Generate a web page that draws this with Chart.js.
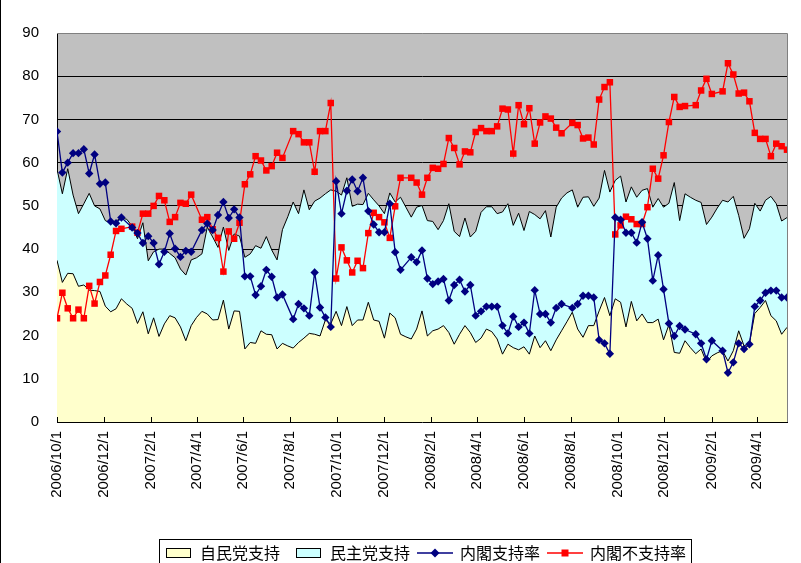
<!DOCTYPE html>
<html>
<head>
<meta charset="utf-8">
<script src="https://cdn.jsdelivr.net/npm/chart.js@4.4.0/dist/chart.umd.min.js"></script>
<style>
  html, body { margin: 0; padding: 0; background: #fff; overflow: hidden; }
  #wrap { position: relative; width: 801px; height: 563px; overflow: hidden; }
  #wrap canvas { position: absolute; left: 0; top: 0; }
</style>
</head>
<body>
<div id="wrap"><canvas id="chart" width="801" height="571"></canvas></div>
<script>
// weekly survey dates (one per week; missing cabinet polls are null)
const weeks = [
  '2006/10/1','2006/10/8','2006/10/15','2006/10/22','2006/10/29','2006/11/5','2006/11/12','2006/11/19','2006/11/26',
  '2006/12/3','2006/12/10','2006/12/17','2006/12/24','2006/12/31',
  '2007/1/7','2007/1/14','2007/1/21','2007/1/28','2007/2/4','2007/2/11','2007/2/18','2007/2/25',
  '2007/3/4','2007/3/11','2007/3/18','2007/3/25','2007/4/1','2007/4/8','2007/4/15','2007/4/22','2007/4/29',
  '2007/5/6','2007/5/13','2007/5/20','2007/5/27','2007/6/3','2007/6/10','2007/6/17','2007/6/24',
  '2007/7/1','2007/7/8','2007/7/15','2007/7/22','2007/7/29','2007/8/5','2007/8/12','2007/8/19','2007/8/26',
  '2007/9/2','2007/9/9','2007/9/16','2007/9/23','2007/9/30','2007/10/7','2007/10/14','2007/10/21','2007/10/28',
  '2007/11/4','2007/11/11','2007/11/18','2007/11/25','2007/12/2','2007/12/9','2007/12/16','2007/12/23','2007/12/30',
  '2008/1/6','2008/1/13','2008/1/20','2008/1/27','2008/2/3','2008/2/10','2008/2/17','2008/2/24',
  '2008/3/2','2008/3/9','2008/3/16','2008/3/23','2008/3/30','2008/4/6','2008/4/13','2008/4/20','2008/4/27',
  '2008/5/4','2008/5/11','2008/5/18','2008/5/25','2008/6/1','2008/6/8','2008/6/15','2008/6/22','2008/6/29',
  '2008/7/6','2008/7/13','2008/7/20','2008/7/27','2008/8/3','2008/8/10','2008/8/17','2008/8/24','2008/8/31',
  '2008/9/7','2008/9/14','2008/9/21','2008/9/28','2008/10/5','2008/10/12','2008/10/19','2008/10/26',
  '2008/11/2','2008/11/9','2008/11/16','2008/11/23','2008/11/30','2008/12/7','2008/12/14','2008/12/21','2008/12/28',
  '2009/1/4','2009/1/11','2009/1/18','2009/1/25','2009/2/1','2009/2/8','2009/2/15','2009/2/22',
  '2009/3/1','2009/3/8','2009/3/15','2009/3/22','2009/3/29','2009/4/5','2009/4/12','2009/4/19','2009/4/26',
  '2009/5/3','2009/5/10'
];

const ldpSupport = [
  37.4,32.3,34.4,34.3,31.4,31.7,30.5,30.4,30.2,26.8,25.5,26.2,28.5,27.3,
  26.3,22.8,25.5,20.4,24.1,19.8,22.7,24.6,24.1,22.0,18.8,22.3,24.2,25.6,25.0,23.6,23.7,
  28.2,21.5,25.7,25.6,16.9,18.4,18.2,21.1,20.3,20.2,16.9,18.2,17.6,17.1,18.4,19.4,20.5,
  20.3,19.9,23.6,22.7,25.6,22.3,26.7,22.3,23.6,23.6,27.7,23.6,23.3,19.4,25.2,24.1,20.3,19.7,
  19.2,21.5,25.7,19.9,21.1,21.5,22.3,20.7,18.0,20.3,22.3,20.7,18.4,19.4,21.5,20.9,19.2,
  15.7,18.0,17.2,16.7,17.4,15.7,19.9,17.2,18.8,16.5,19.0,21.1,23.2,25.4,21.5,19.6,22.3,22.3,
  25.7,28.8,24.6,28.5,27.7,22.0,27.9,23.4,25.0,23.0,23.0,23.8,19.0,22.5,16.1,15.9,18.8,
  17.2,15.8,16.9,13.8,15.3,16.0,16.5,14.1,16.5,21.1,17.6,18.2,25.1,26.5,28.1,24.6,23.4,20.3,21.9
];

const dpjSupport = [
  21.1,20.5,24.2,18.2,16.8,18.8,22.4,19.6,19.1,19.8,20.5,20.3,18.7,19.6,
  19.0,19.6,20.6,16.9,15.3,20.2,17.3,14.4,13.9,13.4,15.2,15.2,13.8,13.3,20.1,19.2,16.7,
  16.9,18.2,17.8,17.4,21.2,20.5,22.6,19.1,22.6,19.6,20.6,26.3,29.9,33.8,29.8,34.3,28.6,
  30.8,31.9,29.2,31.0,27.8,30.2,29.8,27.6,26.8,26.7,25.2,27.8,26.7,28.8,27.8,26.8,31.7,30.0,
  28.2,28.2,24.4,26.7,25.3,23.0,24.3,29.8,26.1,22.6,24.9,22.1,25.7,29.1,28.3,28.9,29.0,
  32.9,32.5,28.3,31.6,26.9,33.0,28.1,29.8,30.1,26.3,30.7,30.7,29.8,28.3,28.2,32.4,29.8,27.6,
  26.1,29.4,28.6,27.4,29.2,28.9,26.5,28.6,28.6,31.0,26.7,27.9,30.7,28.1,39.3,30.7,34.0,
  34.8,35.5,33.9,31.9,32.1,33.5,34.8,36.8,35.7,26.7,24.9,26.5,25.5,22.3,23.2,27.6,27.1,26.2,25.4
];

const cabinetSupport = [
  67.2,57.7,60.0,62.2,62.2,63.1,57.5,61.9,55.1,55.4,46.4,46.0,47.3,null,
  45.0,43.7,41.4,43.0,41.4,36.5,39.4,43.6,40.1,38.2,39.6,39.4,null,44.4,45.9,44.4,47.9,
  50.9,47.2,49.2,47.3,33.7,33.7,29.4,31.4,35.2,33.6,28.8,29.5,null,23.8,27.3,26.3,24.6,
  34.6,26.5,24.2,22.0,55.7,48.2,53.5,56.1,53.4,56.5,48.8,45.7,43.9,43.9,50.5,39.3,35.2,null,
  38.1,37.0,39.7,33.2,31.9,32.5,33.1,28.1,31.7,32.9,30.2,31.7,24.6,25.6,26.7,26.7,26.7,
  22.3,20.5,24.4,22.0,23.0,20.5,30.5,25.0,25.0,23.0,26.4,27.3,null,26.4,27.3,29.2,29.2,28.8,
  19.0,18.2,15.8,47.3,46.8,43.8,43.8,41.5,46.2,42.4,32.7,38.6,30.7,22.8,19.9,22.2,21.4,
  null,20.3,18.2,14.5,18.8,null,16.5,11.4,13.8,18.2,16.9,18.0,26.7,28.1,29.9,30.4,30.4,28.8,28.8
];

const cabinetOppose = [
  24.0,29.9,26.3,24.0,26.0,24.0,31.5,27.4,32.4,33.9,38.7,44.2,44.7,null,
  45.2,43.8,48.2,48.2,50.0,52.3,51.3,46.3,47.4,50.7,50.5,52.6,null,46.8,47.4,44.6,42.6,
  34.8,44.1,42.4,46.1,55.0,57.3,61.5,60.5,58.2,59.2,62.3,61.1,null,67.3,66.6,64.7,64.7,
  57.9,67.3,67.3,73.8,33.2,40.4,37.4,34.6,37.3,35.6,43.7,48.4,47.4,46.2,42.6,49.9,56.5,null,
  56.5,55.4,52.6,56.5,58.8,58.6,59.7,65.7,63.4,59.6,62.6,62.4,67.1,68.0,67.3,67.3,68.4,
  72.5,72.3,62.1,73.3,68.9,72.6,64.4,69.3,70.7,70.2,68.1,66.8,null,69.2,68.7,65.6,65.8,64.2,
  74.6,77.5,78.6,43.4,45.5,47.5,46.9,45.8,45.8,49.7,58.6,56.3,61.7,69.4,75.2,72.9,73.1,
  null,73.3,76.7,79.4,75.9,null,76.5,83.0,80.4,76.0,76.2,74.2,66.9,65.5,65.5,61.5,64.4,63.8,63.0
];

const tickLabels = [
  '2006/10/1','2006/12/1','2007/2/1','2007/4/1','2007/6/1','2007/8/1','2007/10/1','2007/12/1',
  '2008/2/1','2008/4/1','2008/6/1','2008/8/1','2008/10/1','2008/12/1','2009/2/1','2009/4/1'
];

const seriesNames = ['自民党支持', '民主党支持', '内閣支持率', '内閣不支持率'];

// dates -> days since first survey, for the linear x axis
function dayOf(s) {
  const [y, m, d] = s.split('/').map(Number);
  return Date.UTC(y, m - 1, d) / 86400000;
}
const day0 = dayOf(weeks[0]);
const weekDays = weeks.map(w => dayOf(w) - day0);
const tickDays = tickLabels.map(t => dayOf(t) - day0);
const pts = arr => arr.map((v, i) => ({ x: weekDays[i], y: v }));

const FONT = 'Liberation Sans, Arial, sans-serif';

// small legend icons: filled box for areas, line + marker for lines
function areaIcon(fill) {
  const c = document.createElement('canvas');
  c.width = 34; c.height = 12;
  const g = c.getContext('2d');
  g.fillStyle = fill;
  g.fillRect(8, 1, 25, 10);
  g.strokeStyle = '#000';
  g.lineWidth = 1;
  g.strokeRect(8.5, 1.5, 24, 9);
  return c;
}
function lineIcon(color, marker) {
  const c = document.createElement('canvas');
  c.width = 36; c.height = 12;
  const g = c.getContext('2d');
  g.strokeStyle = color;
  g.lineWidth = 1.5;
  g.beginPath(); g.moveTo(0, 6); g.lineTo(36, 6); g.stroke();
  g.fillStyle = color;
  g.beginPath();
  if (marker === 'diamond') {
    g.moveTo(18, 1.5); g.lineTo(22.5, 6); g.lineTo(18, 10.5); g.lineTo(13.5, 6); g.closePath();
  } else {
    g.rect(14.5, 2.5, 7, 7);
  }
  g.fill();
  return c;
}
const legendIcons = [
  areaIcon('#FFFFCC'),
  areaIcon('#CCFFFF'),
  lineIcon('#000080', 'diamond'),
  lineIcon('#FF0000', 'square')
];

const framePlugin = {
  id: 'frame',
  beforeDraw(chart) {
    const { ctx, chartArea: a } = chart;
    ctx.save();
    ctx.fillStyle = '#C0C0C0';
    ctx.fillRect(a.left, a.top, a.right - a.left, a.bottom - a.top);
    ctx.restore();
  },
  afterDraw(chart) {
    const { ctx, chartArea: a } = chart;
    ctx.save();
    // plot area top / right edge
    ctx.strokeStyle = '#808080';
    ctx.lineWidth = 1;
    ctx.beginPath();
    ctx.moveTo(a.left, a.top + 0.5); ctx.lineTo(a.right + 0.5, a.top + 0.5);
    ctx.lineTo(a.right + 0.5, a.bottom);
    ctx.stroke();
    // inward tick marks on the date axis
    const xs = chart.scales.x;
    ctx.strokeStyle = '#000';
    ctx.beginPath();
    tickDays.forEach(d => {
      const px = Math.round(xs.getPixelForValue(d)) + 0.5;
      ctx.moveTo(px, a.bottom); ctx.lineTo(px, a.bottom - 5);
    });
    ctx.stroke();
    // frame round the legend
    const boxes = chart.legend.legendHitBoxes;
    if (boxes && boxes.length) {
      const l = Math.min(...boxes.map(b => b.left)) + 1;
      const r = Math.max(...boxes.map(b => b.left + b.width)) + 5;
      const t = Math.min(...boxes.map(b => b.top)) - 6;
      const btm = Math.max(...boxes.map(b => b.top + b.height)) + 6;
      ctx.strokeRect(Math.round(l) + 0.5, Math.round(t) + 0.5, Math.round(r - l), Math.round(btm - t));
    }
    // chart border, left side
    ctx.fillStyle = '#000';
    ctx.fillRect(0, 0, 1, chart.height);
    ctx.restore();
  }
};

new Chart(document.getElementById('chart'), {
  type: 'line',
  data: {
    datasets: [
      {
        label: seriesNames[0], data: pts(ldpSupport), stack: 'party', fill: 'origin',
        backgroundColor: '#FFFFCC', borderColor: '#000', borderWidth: 1,
        pointRadius: 0, tension: 0, order: 2
      },
      {
        label: seriesNames[1], data: pts(dpjSupport), stack: 'party', fill: '-1',
        backgroundColor: '#CCFFFF', borderColor: '#000', borderWidth: 1,
        pointRadius: 0, tension: 0, order: 2
      },
      {
        label: seriesNames[2], data: pts(cabinetSupport), stack: 'support', fill: false,
        borderColor: '#000080', backgroundColor: '#000080', borderWidth: 1.3,
        pointStyle: 'rectRot', pointRadius: 4.2, pointBorderWidth: 0,
        spanGaps: true, tension: 0, order: 0
      },
      {
        label: seriesNames[3], data: pts(cabinetOppose), stack: 'oppose', fill: false,
        borderColor: '#FF0000', backgroundColor: '#FF0000', borderWidth: 1.3,
        pointStyle: 'rect', pointRadius: 4.6, pointBorderWidth: 0,
        spanGaps: true, tension: 0, order: 1
      }
    ]
  },
  options: {
    responsive: false,
    animation: false,
    events: [],
    layout: { padding: { left: 0, right: 14, top: 33, bottom: 0 } },
    plugins: {
      tooltip: { enabled: false },
      legend: {
        position: 'bottom',
        fullSize: false,
        labels: {
          usePointStyle: true,
          pointStyleWidth: 34,
          padding: 8,
          color: '#000',
          font: { family: '"Noto Sans CJK JP", sans-serif', size: 16 },
          generateLabels: () => seriesNames.map((t, i) => ({
            text: t, pointStyle: legendIcons[i], datasetIndex: i,
            hidden: false, fillStyle: '#000', strokeStyle: '#000', lineWidth: 0
          }))
        }
      }
    },
    scales: {
      x: {
        type: 'linear',
        min: 0,
        max: weekDays[weekDays.length - 1],
        afterBuildTicks: s => { s.ticks = tickDays.map(v => ({ value: v })); },
        afterFit: s => { s.height = 115; },
        ticks: {
          autoSkip: false, minRotation: 90, maxRotation: 90, padding: 9,
          color: '#000', font: { family: FONT, size: 15 },
          callback: (v, i) => tickLabels[i]
        },
        grid: { drawOnChartArea: false, drawTicks: false },
        border: { color: '#000', width: 1 }
      },
      y: {
        min: 0, max: 90, stacked: true,
        afterFit: s => { s.width = 57; },
        ticks: { stepSize: 10, padding: 18, color: '#000', font: { family: FONT, size: 15 } },
        grid: {
          drawTicks: false, lineWidth: 1,
          color: c => (c.tick.value > 0 && c.tick.value < 90) ? '#000' : 'rgba(0,0,0,0)'
        },
        border: { color: '#000', width: 1 }
      }
    }
  },
  plugins: [framePlugin]
});
</script>
</body>
</html>
